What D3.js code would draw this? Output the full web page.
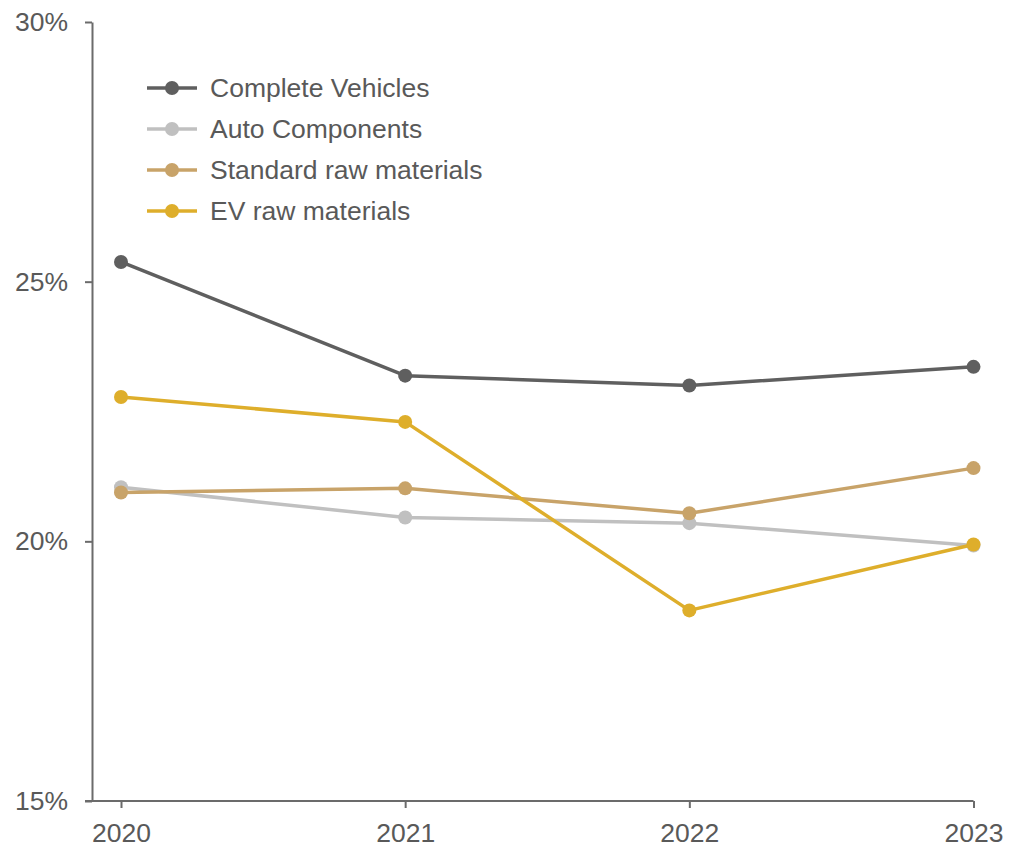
<!DOCTYPE html>
<html>
<head>
<meta charset="utf-8">
<script src="https://cdn.jsdelivr.net/npm/d3@7"></script>
<style>
  html, body { margin: 0; padding: 0; background: #fff; }
  svg { display: block; font-family: "Liberation Sans", Arial, sans-serif; }
</style>
</head>
<body>
<svg id="chart" width="1021" height="849"></svg>
<script>
// Years along the x axis
const years = ["2020", "2021", "2022", "2023"];

// Share (%) per category and year
const completeVehicles = [25.38, 23.19, 23.0, 23.36];
const autoComponents   = [21.04, 20.46, 20.35, 19.92];
const standardRaw      = [20.94, 21.02, 20.54, 21.41];
const evRaw            = [22.78, 22.30, 18.67, 19.94];

const seriesNames  = ["Complete Vehicles", "Auto Components", "Standard raw materials", "EV raw materials"];
const seriesColors = ["#5f5f5f", "#c0c0c0", "#c8a369", "#deae2b"];
const yTicks = [15, 20, 25, 30];

const series = [completeVehicles, autoComponents, standardRaw, evRaw].map((values, i) => ({
  name: seriesNames[i],
  color: seriesColors[i],
  values
}));

const svg = d3.select("#chart");
const textColor = "#595959";
const axisColor = "#6b6b6b";
const fontSize = 26.5;

const x = d3.scalePoint().domain(years).range([121, 973.5]);
const y = d3.scaleLinear().domain([15, 30]).range([801, 22]);

// Y axis
const yAxis = svg.append("g")
  .attr("transform", "translate(92,0)")
  .call(d3.axisLeft(y).tickValues(yTicks).tickFormat(d => d + "%").tickSize(7).tickSizeOuter(0));
yAxis.select(".domain").attr("stroke", axisColor).attr("stroke-width", 2);
yAxis.selectAll(".tick line").attr("stroke", axisColor).attr("stroke-width", 2);
yAxis.selectAll(".tick text")
  .attr("fill", textColor).attr("font-size", fontSize).attr("x", -24)
  .attr("font-family", "'Liberation Sans', Arial, sans-serif");

// X axis
const xAxis = svg.append("g")
  .attr("transform", "translate(0,801)")
  .call(d3.axisBottom(x).tickSize(7).tickSizeOuter(0));
xAxis.select(".domain").attr("d", `M85,0H${x("2023")}`).attr("stroke", axisColor).attr("stroke-width", 2);
xAxis.selectAll(".tick line").attr("stroke", axisColor).attr("stroke-width", 2);
xAxis.selectAll(".tick text")
  .attr("fill", textColor).attr("font-size", fontSize).attr("y", 22)
  .attr("font-family", "'Liberation Sans', Arial, sans-serif");

// Lines and markers
const line = d3.line().x((d, i) => x(years[i])).y(d => y(d));
const groups = svg.append("g").selectAll("g.series")
  .data(series).join("g").attr("class", "series");

groups.append("path")
  .attr("d", d => line(d.values))
  .attr("fill", "none")
  .attr("stroke", d => d.color)
  .attr("stroke-width", 3.5)
  .attr("stroke-linejoin", "round");

groups.selectAll("circle")
  .data(d => d.values.map((v, i) => ({ v, i, color: d.color })))
  .join("circle")
  .attr("cx", d => x(years[d.i]))
  .attr("cy", d => y(d.v))
  .attr("r", 7)
  .attr("fill", d => d.color);

// Legend
const legend = svg.append("g").attr("transform", "translate(147,88)");
const items = legend.selectAll("g").data(series).join("g")
  .attr("transform", (d, i) => `translate(0,${i * 41})`);
items.append("line").attr("x1", 0).attr("x2", 50).attr("y1", 0).attr("y2", 0)
  .attr("stroke", d => d.color).attr("stroke-width", 3.5);
items.append("circle").attr("cx", 25).attr("cy", 0).attr("r", 7).attr("fill", d => d.color);
items.append("text").attr("x", 63).attr("y", 0).attr("dy", "0.35em")
  .attr("font-size", fontSize).attr("fill", textColor)
  .text(d => d.name);
</script>
</body>
</html>
